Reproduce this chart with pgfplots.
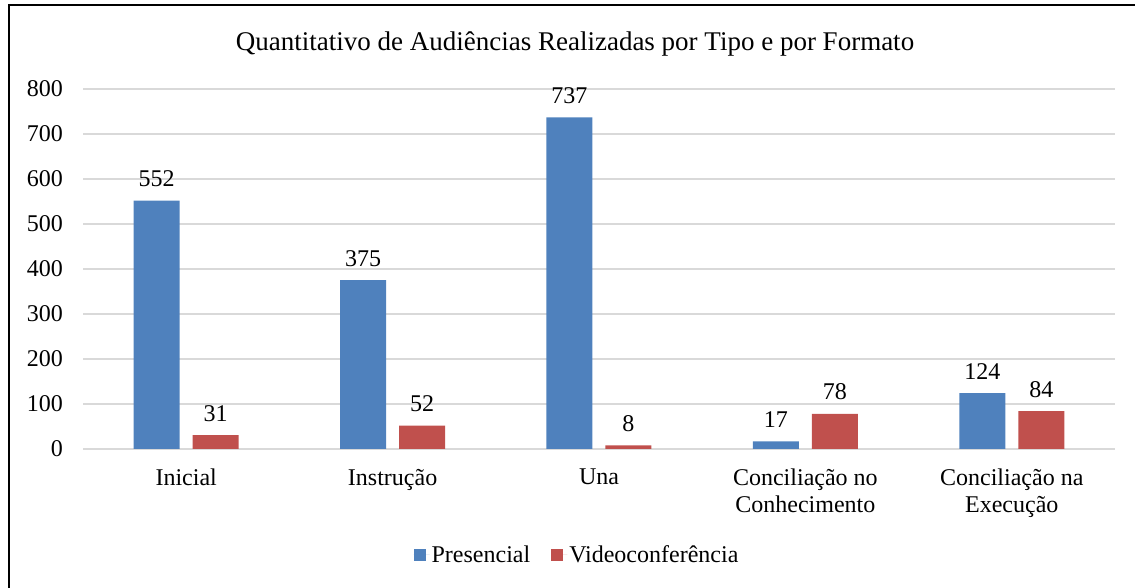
\documentclass[border=0pt]{standalone}
\usepackage{fontspec}
\setmainfont{Liberation Serif}
\usepackage{pgfplots}
\pgfplotsset{compat=1.18}
\definecolor{cblue}{HTML}{4F81BD}
\definecolor{cred}{HTML}{C0504D}
\definecolor{cgrid}{HTML}{D9D9D9}
\newcommand{\cf}{\fontsize{24bp}{27bp}\selectfont}
\begin{document}
\begin{tikzpicture}[x=1bp,y=1bp]
\useasboundingbox (0,0) rectangle (1135,588);
\draw[line width=2bp] (9,0) -- (9,583) -- (1135,583);
\node[font=\fontsize{27bp}{32bp}\selectfont, inner sep=0pt] at (575,544) {Quantitativo de Audiências Realizadas por Tipo e por Formato};
\begin{axis}[
  at={(83bp,139bp)}, anchor=south west, scale only axis,
  width=1032bp, height=360bp,
  xmin=-0.5, xmax=4.5, ymin=0, ymax=800,
  ytick={0,100,...,800},
  xtick={0,1,2,3,4},
  xticklabels={Inicial,Instrução,Una,{Conciliação no\\Conhecimento},{Conciliação na\\Execução}},
  axis line style={draw=none},
  major tick length=0pt,
  ymajorgrids, grid style={cgrid, line width=1.5bp},
  /pgf/number format/assume math mode=true,
  yticklabel style={font=\cf, anchor=east, inner sep=0pt, xshift=-20bp},
  xticklabel style={font=\cf, align=center, anchor=north, inner sep=0pt, yshift=-20bp},
  nodes near coords,
  every node near coord/.append style={font=\cf, anchor=base, inner sep=0pt, yshift=14bp},
  legend style={at={(0.4787,-0.294)}, anchor=center, draw=none, legend columns=2, font=\cf,
    /tikz/every even column/.append style={column sep=19bp}},
  legend image code/.code={\fill[#1] (0bp,-6bp) rectangle (12bp,6bp); \path (0bp,0bp) -- (16bp,0bp);},
  clip=false,
]
\addplot[ybar, fill=cblue, draw=none, bar width=46bp, bar shift=-29.5bp,
  every node near coord/.append style={xshift=-29.5bp}] coordinates {(0,552) (1,375) (2,737) (3,17) (4,124)};
\addlegendentry{Presencial}
\addplot[ybar, fill=cred, draw=none, bar width=46bp, bar shift=29.5bp,
  every node near coord/.append style={xshift=29.5bp}] coordinates {(0,31) (1,52) (2,8) (3,78) (4,84)};
\addlegendentry{Videoconferência}
\end{axis}
\end{tikzpicture}
\end{document}
